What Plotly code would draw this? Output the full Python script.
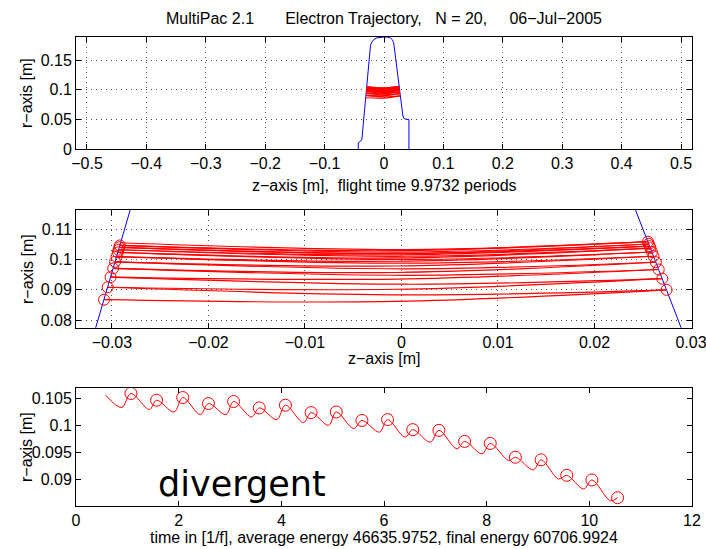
import plotly.graph_objects as go

# ---------------- data ----------------
# cavity geometry (blue outline)
geom_z = [-0.0433, -0.0433, -0.0395, -0.0372, -0.0320, -0.0278, -0.0227, -0.0205,
          -0.0170, -0.0120, -0.0060, 0.0000, 0.0060, 0.0110, 0.0140, 0.0162,
          0.0238, 0.0294, 0.0318, 0.0335, 0.0370, 0.0420, 0.0420]
geom_r = [0.0000, 0.0110, 0.0135, 0.0170, 0.0740, 0.1200, 0.1750, 0.1805,
          0.1848, 0.1875, 0.1888, 0.1890, 0.1888, 0.1872, 0.1845, 0.1800,
          0.1200, 0.0740, 0.0560, 0.0520, 0.0505, 0.0500, 0.0000]

# electron: start point
start_t = 0.58
start_z = -0.02914
start_r = 0.1055

# impacts (N = 20)
impact_t = [1.07, 1.57, 2.08, 2.58, 3.07, 3.57, 4.08, 4.58, 5.07, 5.57,
            6.07, 6.56, 7.07, 7.57, 8.07, 8.56, 9.06, 9.56, 10.05, 10.55]
impact_z = [0.02554, -0.02918, 0.02563, -0.02923, 0.02572, -0.02931, 0.02580, -0.02938,
            0.02595, -0.02952, 0.02612, -0.02967, 0.02636, -0.02987, 0.02665, -0.03014,
            0.02702, -0.03044, 0.02747, -0.03082]
impact_r = [0.10585, 0.10461, 0.10510, 0.10400, 0.10437, 0.10320, 0.10370, 0.10234,
            0.10245, 0.10090, 0.10105, 0.09921, 0.09908, 0.09705, 0.09668, 0.09415,
            0.09367, 0.09083, 0.08998, 0.08672]

# lowest point of each flight
dip_t = [0.89, 1.43, 1.91, 2.42, 2.92, 3.42, 3.91, 4.43, 4.92, 5.41,
         5.91, 6.41, 6.90, 7.42, 7.91, 8.43, 8.91, 9.40, 9.89, 10.41]
dip_z = [0.0005, -0.0005, 0.0005, -0.0005, 0.0005, -0.0005, 0.0005, -0.0005, 0.0005, -0.0005,
         0.0005, -0.0005, 0.0005, -0.0005, 0.0005, -0.0005, 0.0005, -0.0005, 0.0005, -0.0005]
dip_r = [0.10327, 0.10290, 0.10245, 0.10197, 0.10197, 0.10153, 0.10105, 0.10050, 0.10000, 0.09940,
         0.09876, 0.09784, 0.09692, 0.09570, 0.09478, 0.09354, 0.09183, 0.09017, 0.08832, 0.08616]

NB = "\u00a0"
title_text = ("MultiPac 2.1" + NB * 7 + "Electron Trajectory," + NB * 3 + "N = 20," + NB * 5
              + "06\u2212Jul\u22122005")
top_xlabel = "z\u2212axis [m]," + NB * 2 + "flight time 9.9732 periods"
mid_xlabel = "z\u2212axis [m]"
bot_xlabel = "time in [1/f], average energy 46635.9752, final energy 60706.9924"
ylabel = "r\u2212axis [m]"
status_text = "divergent"

# ---------------- build traces ----------------
# r(t)
tt = [start_t]
rt = [start_r]
for k in range(len(impact_t)):
    tt += [dip_t[k], impact_t[k]]
    rt += [dip_r[k], impact_r[k]]

# r(z) flights as separate segments
zz, rz = [], []
pz, pr = start_z, start_r
for k in range(len(impact_z)):
    zz += [pz, dip_z[k], impact_z[k], None]
    rz += [pr, dip_r[k], impact_r[k], None]
    pz, pr = impact_z[k], impact_r[k]

RED = "#ff0000"
BLUE = "#0000ff"
FONT = "Liberation Sans"
FS = 16

fig = go.Figure()
for xa, ya in [("x", "y"), ("x2", "y2")]:
    fig.add_trace(go.Scatter(x=geom_z, y=geom_r, mode="lines", xaxis=xa, yaxis=ya,
                             line=dict(color=BLUE, width=1), hoverinfo="skip"))
    fig.add_trace(go.Scatter(x=zz, y=rz, mode="lines", xaxis=xa, yaxis=ya,
                             line=dict(color=RED, width=1.2, shape="spline", smoothing=1),
                             connectgaps=False, hoverinfo="skip"))
fig.add_trace(go.Scatter(x=impact_z, y=impact_r, mode="markers", xaxis="x2", yaxis="y2",
                         marker=dict(symbol="circle-open", size=11, color=RED,
                                     line=dict(width=1, color=RED))))
fig.add_trace(go.Scatter(x=tt, y=rt, mode="lines", xaxis="x3", yaxis="y3",
                         line=dict(color=RED, width=1, shape="spline", smoothing=1)))
fig.add_trace(go.Scatter(x=impact_t, y=impact_r, mode="markers", xaxis="x3", yaxis="y3",
                         marker=dict(symbol="circle-open", size=12, color=RED,
                                     line=dict(width=1, color=RED))))

common = dict(showline=True, mirror="allticks", linecolor="black", linewidth=1,
              ticks="inside", ticklen=5, tickcolor="black", zeroline=False,
              tickfont=dict(family=FONT, size=FS, color="black"),
              gridcolor="rgba(0,0,0,0.7)", griddash="1px,4px", gridwidth=1,
              automargin=False, ticklabeloverflow="allow")

fig.update_layout(
    width=706, height=549,
    margin=dict(l=76, r=14, t=37, b=43),
    paper_bgcolor="white", plot_bgcolor="white",
    showlegend=False,
    xaxis=dict(domain=[0, 1], anchor="y", range=[-0.5185, 0.5185], dtick=0.1, tick0=0,
               showgrid=True, **common),
    yaxis=dict(domain=[0.7606, 1.0], anchor="x", range=[0, 0.189], dtick=0.05, tick0=0,
               showgrid=True, **common),
    xaxis2=dict(domain=[0, 1], anchor="y2", range=[-0.03372, 0.0301], dtick=0.01, tick0=0,
                showgrid=True, **common),
    yaxis2=dict(domain=[0.3802, 0.6311], anchor="x2", range=[0.0775, 0.1163], dtick=0.01, tick0=0,
                showgrid=True, **common),
    xaxis3=dict(domain=[0, 1], anchor="y3", range=[0, 12], dtick=2, tick0=0,
                showgrid=False, **common),
    yaxis3=dict(domain=[0.0, 0.251], anchor="x3", range=[0.0852, 0.1068], dtick=0.005, tick0=0,
                showgrid=False, **common),
)

def lab(text, x, y, angle=0, size=FS):
    fig.add_annotation(text=text, x=x, y=y, xref="paper", yref="paper", showarrow=False,
                       xanchor="center", yanchor="middle", textangle=angle,
                       font=dict(family=FONT, size=size, color="black"))

lab(title_text, 0.5, 1.0405)
lab(top_xlabel, 0.5, 0.6844)
lab(mid_xlabel, 0.5, 0.3135)
lab(bot_xlabel, 0.5, -0.0682)
lab(ylabel, -0.0795, 0.8806, -90)
lab(ylabel, -0.0795, 0.5053, -90)
lab(ylabel, -0.0795, 0.1258, -90)

fig.add_annotation(text=status_text, x=3.23, y=0.0893, xref="x3", yref="y3", showarrow=False,
                   xanchor="center", yanchor="middle",
                   font=dict(family="DejaVu Sans", size=35, color="black"))

# remove the browser's default 8px page margin so the 706x549 figure fills the window
fig.write_html("out.html",
               config={"displayModeBar": False},
               post_script="document.body.style.margin='0px';document.body.style.overflow='hidden';")
